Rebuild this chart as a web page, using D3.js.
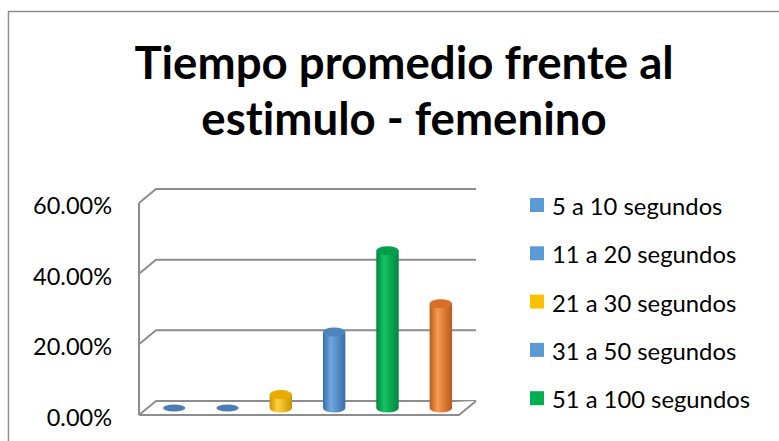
<!DOCTYPE html>
<html>
<head>
<meta charset="utf-8">
<script src="https://cdn.jsdelivr.net/npm/d3@7"></script>
<style>
  body { margin: 0; background: #fff; }
  svg { display: block; }
  text { font-family: Lato, "Open Sans", sans-serif; fill: #000; font-variant-ligatures: none; }
</style>
</head>
<body>
<div id="chart"></div>
<script>
// data
const categories = ["5 a 10 segundos", "11 a 20 segundos", "21 a 30 segundos",
                    "31 a 50 segundos", "51 a 100 segundos", "más de 100 segundos"];
const values = [0, 0, 0.038, 0.215, 0.445, 0.295];
const yTicks = [0, 0.2, 0.4, 0.6];
const titleLines = ["Tiempo promedio frente al", "estimulo - femenino"];
const legendCount = 5; // only five entries fit in the picture

const colors = [
    { light: "#6fa8df", dark: "#3b6ea6", top: "#4d84bd" },
    { light: "#6fa8df", dark: "#3b6ea6", top: "#4d84bd" },
    { light: "#ffd23a", dark: "#c99400", top: "#e8ad00" },
    { light: "#6fa8df", dark: "#3b6ea6", top: "#4d84bd" },
    { light: "#16c463", dark: "#00853c", top: "#00a04a" },
    { light: "#f99a52", dark: "#b95a1c", top: "#d86e28" }
];
const legendColors = ["#5b9bd5", "#5b9bd5", "#ffc000", "#5b9bd5", "#00b050", "#ed7d31"];

const W = 779, H = 441;
const depth = { dx: 17, dy: 14 };   // oblique offset from back wall to front edge
const back = { left: 156, right: 476, top: 189, bottom: 401 };

const svg = d3.select("#chart").append("svg")
    .attr("width", W).attr("height", H);

// outer chart border (runs off the right and bottom edges)
svg.append("path")
    .attr("d", `M8.5,${H + 2} L8.5,11.5 L${W + 2},11.5`)
    .attr("fill", "none").attr("stroke", "#8e8e8e").attr("stroke-width", 1.5);

// title
svg.append("g").selectAll("text")
    .data(titleLines)
    .join("text")
    .attr("x", 404)
    .attr("y", (d, i) => 79 + i * 56)
    .attr("text-anchor", "middle")
    .attr("font-weight", "bold")
    .attr("font-size", 45.6)
    .text(d => d);

// scales (back wall)
const y = d3.scaleLinear().domain([0, 0.6]).range([back.bottom, back.top]);
const x = d3.scaleBand()
    .domain(categories)
    .range([back.left - depth.dx / 2, back.right - depth.dx / 2])
    .padding(0);

const grid = svg.append("g")
    .attr("fill", "none").attr("stroke", "#8c8c8c").attr("stroke-width", 2);

// back wall gridlines + side wall diagonals
yTicks.forEach(t => {
    grid.append("path")
        .attr("d", `M${back.left - depth.dx},${y(t) + depth.dy} L${back.left},${y(t)} L${back.right},${y(t)}`);
});
// left front axis
grid.append("line")
    .attr("x1", back.left - depth.dx).attr("x2", back.left - depth.dx)
    .attr("y1", y(0.6) + depth.dy).attr("y2", y(0) + depth.dy);
// floor
grid.append("path")
    .attr("d", `M${back.left - depth.dx},${y(0) + depth.dy} L${back.right - depth.dx},${y(0) + depth.dy} L${back.right},${y(0)}`)
    .attr("fill", "#fff");

// y axis labels
svg.append("g").selectAll("text")
    .data(yTicks)
    .join("text")
    .attr("x", 112)
    .attr("y", d => y(d) + depth.dy + 2)
    .attr("text-anchor", "end")
    .attr("dominant-baseline", "central")
    .attr("font-size", 23.5)
    .text(d => d3.format(".2%")(d));

// cylinder gradients
const defs = svg.append("defs");
colors.forEach((c, i) => {
    const g = defs.append("linearGradient").attr("id", "cyl" + i)
        .attr("x1", "0%").attr("x2", "100%");
    g.append("stop").attr("offset", "0%").attr("stop-color", c.dark);
    g.append("stop").attr("offset", "35%").attr("stop-color", c.light);
    g.append("stop").attr("offset", "100%").attr("stop-color", c.dark);
});

// bars as cylinders, sitting at mid depth
const r = x.bandwidth() * 0.21;
const ry = 4.5;
const mid = { dx: -depth.dx / 2, dy: depth.dy / 2 };
const bars = svg.append("g").selectAll("g")
    .data(values.map((v, i) => ({ v, i, cat: categories[i] })))
    .join("g");

bars.each(function(d) {
    const g = d3.select(this);
    const cx = x(d.cat) + x.bandwidth() / 2 + depth.dx / 2 + mid.dx;
    const base = y(0) + mid.dy;
    const top = y(d.v) + mid.dy;
    if (d.v > 0) {
        g.append("path")
            .attr("d", `M${cx - r},${top} L${cx - r},${base} A${r},${ry} 0 0 0 ${cx + r},${base} L${cx + r},${top} Z`)
            .attr("fill", `url(#cyl${d.i})`);
    }
    g.append("ellipse")
        .attr("cx", cx).attr("cy", top)
        .attr("rx", r).attr("ry", d.v > 0 ? ry : 3.5)
        .attr("fill", d.v > 0 ? colors[d.i].top : "#4a7eb3");
});

// legend
const legend = svg.append("g").selectAll("g")
    .data(categories.slice(0, legendCount))
    .join("g")
    .attr("transform", (d, i) => `translate(530,${205 + i * 48.3})`);
legend.append("rect")
    .attr("x", 0).attr("y", -7).attr("width", 14).attr("height", 14)
    .attr("fill", (d, i) => legendColors[i]);
legend.append("text")
    .attr("x", 22).attr("y", 1)
    .attr("dominant-baseline", "central")
    .attr("font-size", 23.8)
    .text(d => d);
</script>
</body>
</html>
